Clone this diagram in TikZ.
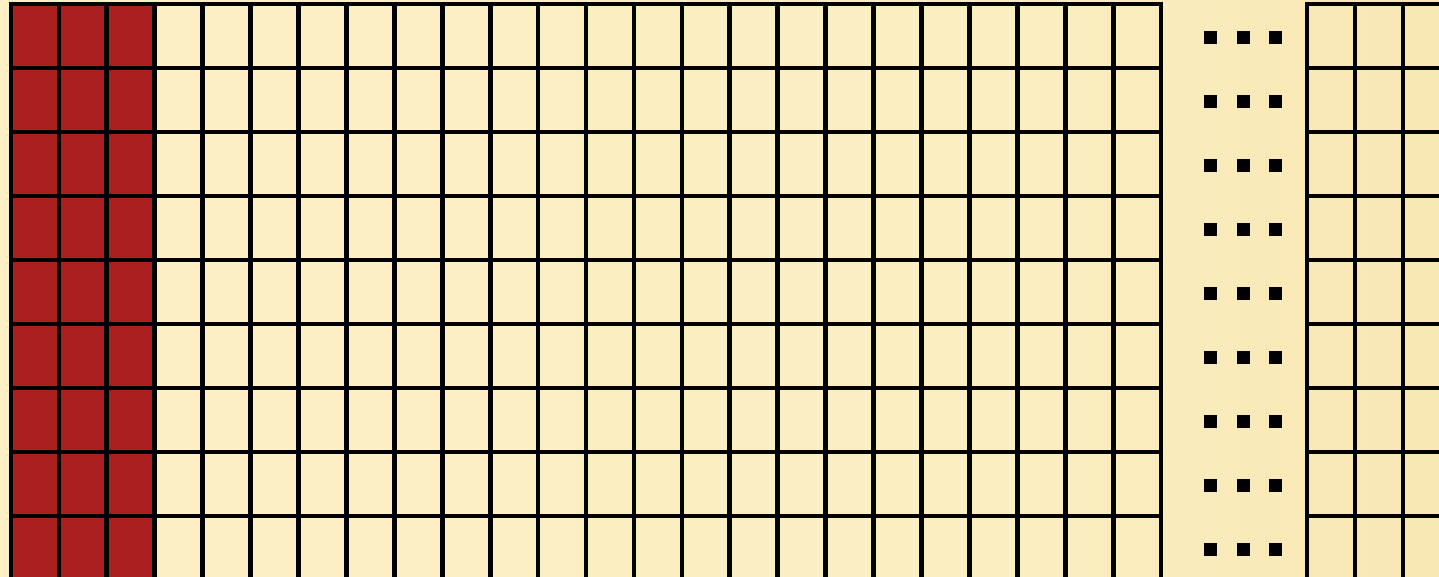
\documentclass[tikz,border=0pt]{standalone}
\usepackage{xcolor}
\usepackage{tikz}

\definecolor{bgcream}{HTML}{FDF1C7}
\definecolor{bgcreamb}{HTML}{FBEEC1}
\definecolor{bgwarm}{HTML}{F5E3AA}
\definecolor{bggold}{HTML}{EED896}
\definecolor{cellred}{HTML}{AC1F1F}

\pgfdeclarehorizontalshading{bgshade}{100bp}{color(0bp)=(bgcream); color(60bp)=(bgcreamb); color(85bp)=(bgwarm); color(100bp)=(bggold)}

\tikzset{
	gridline/.style={line width=0.047cm, black, line cap=rect},
	redcell/.style={fill=cellred},
	dotmark/.style={fill=black},
}

\begin{document}
\begin{tikzpicture}[x=0.01cm, y=-0.01cm]
				% Frame and background:
				\useasboundingbox (0, 0) rectangle (1439, 577);
				\clip (0, 0) rectangle (1439, 577);
				\shade[shading=bgshade] (0, 0) rectangle (1439, 577);
				% Red columns:
				\foreach \r in {0,...,8}
					\foreach \c in {0,1,2}
						\fill[redcell] (11+\c*47.92, 4+\r*64) rectangle ++(47.92, 64);
				% Left grid:
				\foreach \c in {0,...,24}
					\draw[gridline] (11+\c*47.92, 4) -- (11+\c*47.92, 580);
				\foreach \r in {0,...,9}
					\draw[gridline] (11, 4+\r*64) -- (1161, 4+\r*64);
				% Right grid:
				\foreach \c in {0,...,3}
					\draw[gridline] (1307+\c*48, 4) -- (1307+\c*48, 580);
				\foreach \r in {0,...,9}
					\draw[gridline] (1307, 4+\r*64) -- (1460, 4+\r*64);
				% Dots between the grids:
				\foreach \r in {0,...,8}
					\foreach \c in {0,1,2}
						\fill[dotmark] (1204+\c*32.5, 31+\r*64) rectangle ++(13, 13);
			\end{tikzpicture}
\end{document}
